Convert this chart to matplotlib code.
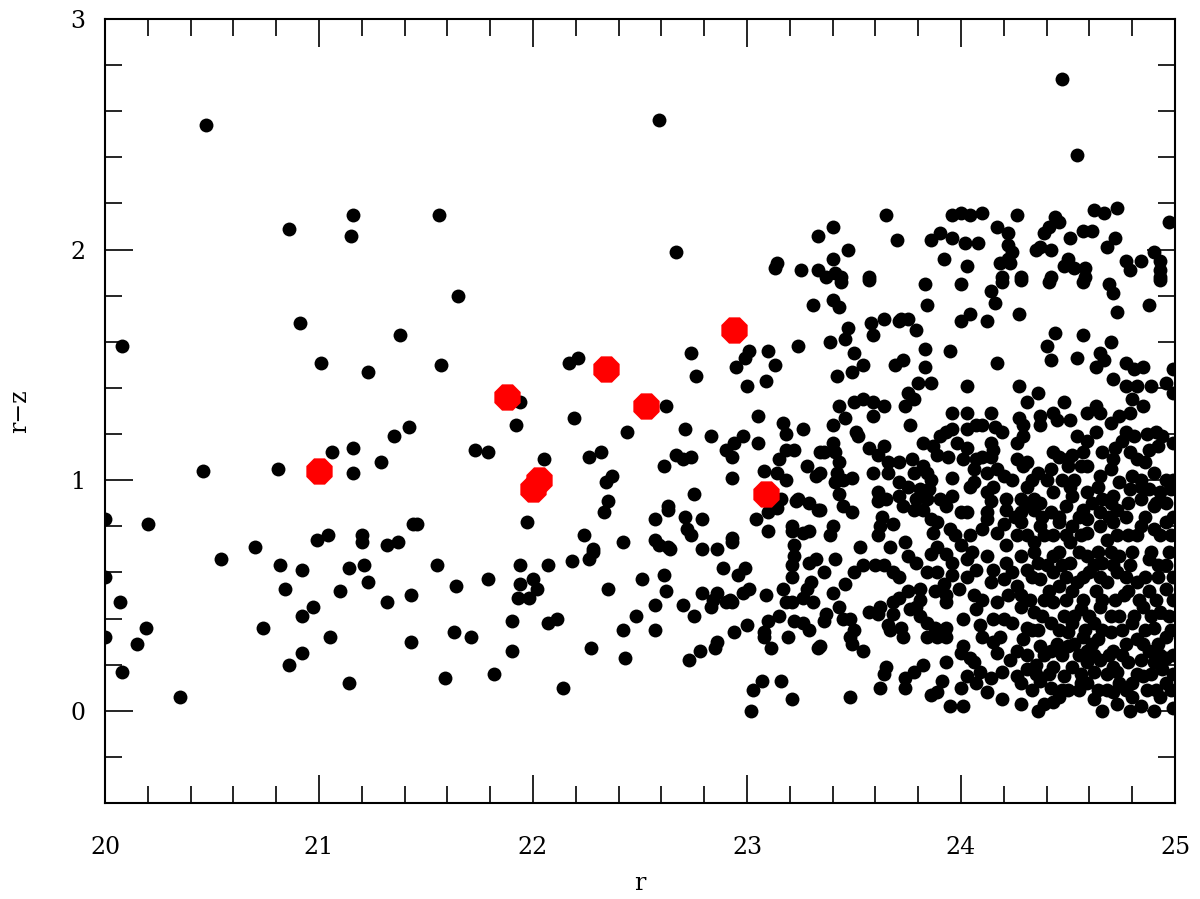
import numpy as np
import matplotlib
matplotlib.use("Agg")
import matplotlib.pyplot as plt
from matplotlib.ticker import MultipleLocator

# highlighted objects (red octagons): r, r-z
r_red = [21.00, 21.88, 22.34, 22.53, 22.94, 22.03, 22.00, 23.09]
rz_red = [1.04, 1.36, 1.48, 1.32, 1.65, 1.00, 0.96, 0.94]

# bright, sparse part of the sample (r, r-z)
bright = [
    (20.47, 2.54), (20.86, 2.09), (21.16, 2.15), (21.15, 2.06), (21.56, 2.15),
    (20.91, 1.68), (20.08, 1.58), (21.38, 1.63), (21.01, 1.51), (21.23, 1.47),
    (21.57, 1.50), (21.65, 1.80), (21.42, 1.23), (21.35, 1.19), (21.06, 1.12),
    (21.16, 1.14), (21.29, 1.08), (21.16, 1.03), (20.81, 1.05), (20.46, 1.04),
    (20.20, 0.81), (20.00, 0.83), (21.44, 0.81), (21.46, 0.81), (20.99, 0.74),
    (21.04, 0.76), (21.20, 0.76), (21.20, 0.73), (21.32, 0.72), (21.37, 0.73),
    (20.70, 0.71), (20.00, 0.58), (20.07, 0.47), (20.19, 0.36), (20.15, 0.29),
    (20.08, 0.17), (20.35, 0.06), (20.54, 0.66), (20.82, 0.63), (20.84, 0.53),
    (20.92, 0.61), (20.92, 0.41), (20.97, 0.45), (20.74, 0.36), (20.86, 0.20),
    (20.92, 0.25), (21.05, 0.32), (21.10, 0.52), (21.14, 0.62), (21.21, 0.63),
    (21.23, 0.56), (21.14, 0.12), (21.32, 0.47), (21.43, 0.50), (21.43, 0.30),
    (21.55, 0.63), (21.59, 0.14), (21.64, 0.54), (21.63, 0.34), (20.00, 0.32),
]

middle = [
    (22.59, 2.56), (22.67, 1.99), (23.14, 1.94), (23.13, 1.92), (23.25, 1.91),
    (23.33, 2.06), (23.33, 1.91), (23.31, 1.76), (22.17, 1.51), (22.21, 1.53),
    (22.74, 1.55), (22.76, 1.45), (23.01, 1.56), (22.99, 1.53), (22.95, 1.49),
    (23.10, 1.56), (23.13, 1.50), (23.00, 1.41), (23.09, 1.43), (23.24, 1.58),
    (21.94, 1.34), (21.92, 1.24), (22.19, 1.27), (22.62, 1.32), (22.44, 1.21),
    (23.05, 1.28), (23.17, 1.25), (23.18, 1.20), (23.26, 1.22), (22.71, 1.22),
    (22.83, 1.19), (22.98, 1.19), (22.94, 1.16), (23.05, 1.16), (22.90, 1.13),
    (22.93, 1.10), (22.67, 1.11), (22.70, 1.09), (22.74, 1.10), (21.73, 1.13),
    (21.79, 1.12), (22.05, 1.09), (22.26, 1.10), (22.32, 1.12), (22.61, 1.06),
    (22.37, 1.02), (22.34, 0.99), (23.15, 1.09), (23.18, 1.13), (23.22, 1.13),
    (22.93, 1.01), (23.08, 1.04), (23.14, 1.03), (23.18, 1.00), (23.28, 1.06),
    (23.32, 1.02), (23.34, 1.12), (22.75, 0.94), (22.35, 0.91), (22.33, 0.86),
    (21.97, 0.82), (22.63, 0.89), (22.63, 0.87), (22.71, 0.84), (22.79, 0.83),
    (22.57, 0.83), (22.72, 0.79), (22.74, 0.76), (23.04, 0.83), (23.10, 0.78),
    (23.10, 0.86), (23.16, 0.92), (23.14, 0.88), (23.24, 0.92), (23.23, 0.91),
    (23.29, 0.90), (23.33, 0.87), (23.21, 0.80), (23.21, 0.78), (23.26, 0.77),
    (23.29, 0.78), (23.22, 0.72), (22.24, 0.76), (22.42, 0.73), (22.28, 0.70),
    (22.57, 0.74), (22.59, 0.72), (22.63, 0.71), (22.79, 0.70), (22.86, 0.70),
    (22.93, 0.75), (22.93, 0.73),
]

lower_mid = [
    (21.71, 0.32), (21.79, 0.57), (21.82, 0.16), (21.94, 0.63), (21.94, 0.55),
    (21.93, 0.49), (21.98, 0.49), (22.00, 0.57), (22.02, 0.53), (22.07, 0.63),
    (21.90, 0.39), (21.90, 0.26), (22.07, 0.38), (22.11, 0.40), (22.14, 0.10),
    (22.18, 0.65), (22.26, 0.66), (22.28, 0.69), (22.35, 0.53), (22.27, 0.27),
    (22.42, 0.35), (22.43, 0.23), (22.48, 0.41), (22.51, 0.57), (22.57, 0.46),
    (22.57, 0.35), (22.61, 0.59), (22.62, 0.52), (22.64, 0.70), (22.70, 0.46),
    (22.75, 0.41), (22.73, 0.22), (22.78, 0.26), (22.79, 0.51), (22.83, 0.45),
    (22.84, 0.48), (22.86, 0.51), (22.86, 0.30), (22.85, 0.27), (22.89, 0.62),
    (22.90, 0.47), (22.92, 0.48), (22.93, 0.47), (22.96, 0.59), (22.99, 0.62),
    (22.98, 0.51), (23.01, 0.53), (22.94, 0.34), (23.00, 0.37), (23.09, 0.50),
    (23.10, 0.39), (23.08, 0.34), (23.08, 0.32), (23.11, 0.27), (23.15, 0.41),
    (23.19, 0.32), (23.17, 0.53), (23.18, 0.47), (23.21, 0.47), (23.21, 0.58),
    (23.21, 0.63), (23.22, 0.67), (23.22, 0.39), (23.26, 0.38), (23.29, 0.35),
    (23.26, 0.49), (23.28, 0.53), (23.30, 0.56), (23.29, 0.64), (23.32, 0.66),
    (23.31, 0.47), (23.33, 0.27), (23.02, 0.00), (23.03, 0.09), (23.07, 0.13),
    (23.16, 0.13), (23.21, 0.05),
]

# faint, crowded part (r > 23.3)
faint_top = [
    (24.47, 2.74), (24.54, 2.41), (23.65, 2.15), (23.70, 2.04), (23.40, 2.10),
    (23.47, 2.00), (23.40, 1.96), (23.37, 1.88), (23.41, 1.90), (23.44, 1.88),
    (23.57, 1.88), (23.86, 2.04), (23.90, 2.07), (23.96, 2.15), (24.00, 2.16),
    (24.04, 2.15), (24.10, 2.16), (23.96, 2.05), (24.02, 2.03), (24.08, 2.03),
    (23.92, 1.96), (24.03, 1.93), (24.17, 2.10), (24.22, 2.07), (24.22, 2.02),
    (24.24, 1.99), (24.22, 1.96), (24.23, 1.94), (24.18, 1.94), (24.19, 1.88),
    (24.28, 1.88), (24.26, 2.15), (24.35, 2.00), (24.37, 2.01), (24.42, 2.00),
    (24.39, 2.07), (24.41, 2.10), (24.44, 2.14), (24.46, 2.12), (24.51, 2.05),
    (24.57, 2.08), (24.61, 2.08), (24.62, 2.17), (24.67, 2.16), (24.73, 2.18),
    (24.72, 2.05), (24.68, 2.01), (24.48, 1.93), (24.50, 1.96), (24.53, 1.92),
    (24.58, 1.92), (24.42, 1.88), (24.58, 1.88), (24.77, 1.95), (24.79, 1.91),
    (24.84, 1.95), (24.90, 1.99), (24.93, 1.95), (24.93, 1.91), (24.97, 2.12),
    (24.93, 1.88),
]

faint_upper = [
    (23.83, 1.85), (24.00, 1.85), (24.14, 1.82), (24.16, 1.77), (24.19, 1.86),
    (24.28, 1.87), (24.41, 1.86), (24.57, 1.86), (24.69, 1.85), (24.71, 1.81),
    (24.73, 1.73), (24.88, 1.76), (24.93, 1.87), (23.40, 1.78), (23.43, 1.75),
    (23.57, 1.87), (23.44, 1.86), (23.84, 1.76), (24.00, 1.69), (24.04, 1.72),
    (24.12, 1.69), (24.27, 1.72), (23.64, 1.70), (23.71, 1.69), (23.72, 1.70),
    (23.75, 1.70), (23.58, 1.68), (23.59, 1.63), (23.47, 1.66), (23.46, 1.61),
    (23.39, 1.60), (23.79, 1.65), (23.83, 1.57), (23.95, 1.56), (23.50, 1.55),
    (23.54, 1.50), (23.49, 1.47), (23.42, 1.45), (23.69, 1.50), (23.73, 1.52),
    (23.83, 1.49), (24.17, 1.51), (24.44, 1.64), (24.40, 1.58), (24.42, 1.52),
    (24.57, 1.63), (24.54, 1.53), (24.65, 1.55), (24.70, 1.60), (24.67, 1.52),
    (24.63, 1.49), (24.77, 1.51), (24.81, 1.48), (24.85, 1.49), (24.71, 1.44),
    (24.77, 1.41), (24.82, 1.41), (24.89, 1.41), (24.96, 1.42), (24.99, 1.38),
    (24.99, 1.48), (23.80, 1.42), (23.86, 1.42), (24.03, 1.41), (24.27, 1.41),
    (24.36, 1.38), (24.31, 1.34), (24.48, 1.34), (23.75, 1.38), (23.78, 1.35),
    (23.74, 1.32), (23.50, 1.34), (23.54, 1.35), (23.59, 1.34), (23.64, 1.32),
    (23.43, 1.32), (23.46, 1.27), (23.40, 1.24), (23.59, 1.28), (23.76, 1.24),
    (23.96, 1.29), (24.03, 1.29), (24.14, 1.29), (24.07, 1.24), (24.10, 1.24),
    (24.03, 1.22), (24.16, 1.23), (24.19, 1.21), (24.27, 1.27), (24.29, 1.24),
    (24.29, 1.19), (24.37, 1.28), (24.37, 1.24), (24.43, 1.29), (24.45, 1.26),
    (24.51, 1.26), (24.59, 1.29), (24.63, 1.32), (24.65, 1.29), (24.70, 1.25),
    (24.74, 1.28), (24.79, 1.29), (24.80, 1.35), (24.85, 1.32), (24.77, 1.21),
    (24.81, 1.19), (24.91, 1.21), (24.94, 1.19), (24.87, 1.20), (24.54, 1.19),
    (24.63, 1.21), (24.59, 1.17), (23.51, 1.21), (23.52, 1.19), (23.40, 1.16),
    (23.36, 1.12), (23.41, 1.12), (23.43, 1.08), (23.57, 1.14), (23.64, 1.15),
    (23.61, 1.11), (23.82, 1.16), (23.87, 1.15), (23.90, 1.19), (23.93, 1.21),
    (23.96, 1.22), (23.98, 1.16), (23.89, 1.11), (23.94, 1.10), (24.01, 1.09),
    (24.03, 1.14), (24.07, 1.09), (24.10, 1.10), (24.14, 1.16), (24.15, 1.13),
    (24.14, 1.10), (24.26, 1.16), (24.26, 1.09), (24.31, 1.08), (24.43, 1.12),
    (24.46, 1.10), (24.50, 1.09), (24.52, 1.11), (24.57, 1.12), (24.66, 1.12),
    (24.71, 1.09), (24.72, 1.14), (24.75, 1.17), (24.79, 1.12), (24.82, 1.09),
    (24.86, 1.08), (24.88, 1.13), (24.92, 1.15), (24.99, 1.16),
]

faint_mid = [
    (23.66, 1.08), (23.71, 1.08), (23.77, 1.09), (23.82, 1.06), (23.59, 1.03),
    (23.66, 1.03), (23.42, 1.03), (23.45, 1.00), (23.49, 1.01), (23.41, 0.99),
    (23.34, 1.03), (23.71, 0.99), (23.78, 1.03), (23.84, 1.03), (23.86, 1.00),
    (23.96, 1.01), (24.06, 1.05), (24.12, 1.03), (24.17, 1.05), (24.20, 1.02),
    (24.24, 1.00), (24.29, 1.06), (24.36, 1.03), (24.42, 1.05), (24.50, 1.06),
    (24.56, 1.06), (24.59, 1.06), (24.65, 1.02), (24.70, 1.05), (24.74, 0.99),
    (24.80, 1.02), (24.90, 1.03), (24.96, 1.00), (23.43, 0.94), (23.45, 0.89),
    (23.49, 0.86), (23.34, 0.87), (23.61, 0.95), (23.61, 0.91), (23.65, 0.92),
    (23.71, 0.93), (23.75, 0.97), (23.81, 0.96), (23.85, 0.96), (23.79, 0.92),
    (23.84, 0.92), (23.73, 0.89), (23.78, 0.87), (23.82, 0.87), (23.90, 0.92),
    (23.96, 0.93), (23.93, 0.89), (24.04, 0.97), (24.06, 0.99), (24.12, 0.95),
    (24.15, 0.97), (24.14, 0.91), (24.21, 0.92), (24.28, 0.92), (24.31, 0.97),
    (24.34, 0.92), (24.40, 1.00), (24.43, 0.95), (24.51, 0.97), (24.52, 0.93),
    (24.59, 0.95), (24.64, 0.97), (24.66, 0.92), (24.71, 0.93), (24.79, 0.96),
    (24.84, 0.97), (24.88, 0.96), (24.93, 0.95), (24.98, 0.96), (24.96, 0.90),
    (24.90, 0.89), (24.84, 0.92), (24.78, 0.90), (24.73, 0.87), (24.65, 0.86),
    (24.57, 0.87), (24.49, 0.89), (24.42, 0.86), (24.34, 0.87), (24.28, 0.86),
    (24.21, 0.87), (24.12, 0.86), (24.00, 0.86), (24.03, 0.86), (23.63, 0.84),
    (23.68, 0.81), (23.62, 0.80), (23.40, 0.80), (23.39, 0.76), (23.61, 0.76),
    (23.67, 0.71), (23.53, 0.71), (23.74, 0.73), (23.86, 0.83), (23.89, 0.82),
    (23.87, 0.77), (23.95, 0.79), (23.97, 0.76), (24.04, 0.76), (24.12, 0.83),
    (24.10, 0.79), (24.17, 0.77), (24.20, 0.81), (24.28, 0.82), (24.31, 0.76),
    (24.37, 0.80), (24.43, 0.76), (24.46, 0.82), (24.52, 0.80), (24.59, 0.83),
    (24.59, 0.77), (24.65, 0.80), (24.71, 0.82), (24.78, 0.76), (24.84, 0.80),
    (24.90, 0.79), (24.96, 0.82), (24.98, 0.76), (24.68, 0.74), (24.51, 0.73),
    (24.34, 0.73), (24.21, 0.72), (24.00, 0.72), (23.89, 0.71),
]

faint_lower = [
    (23.41, 0.66), (23.36, 0.60), (23.50, 0.60), (23.54, 0.63), (23.60, 0.63),
    (23.64, 0.63), (23.68, 0.60), (23.71, 0.58), (23.75, 0.67), (23.79, 0.64),
    (23.86, 0.68), (23.84, 0.60), (23.89, 0.60), (23.93, 0.68), (23.96, 0.64),
    (23.96, 0.59), (24.03, 0.66), (24.05, 0.69), (24.07, 0.61), (24.03, 0.58),
    (23.99, 0.53), (24.12, 0.67), (24.15, 0.61), (24.14, 0.56), (24.20, 0.57),
    (24.21, 0.64), (24.28, 0.67), (24.31, 0.61), (24.26, 0.54), (24.36, 0.64),
    (24.37, 0.57), (24.43, 0.67), (24.43, 0.60), (24.46, 0.54), (24.51, 0.64),
    (24.54, 0.56), (24.59, 0.67), (24.60, 0.60), (24.66, 0.64), (24.68, 0.56),
    (24.74, 0.67), (24.73, 0.60), (24.79, 0.63), (24.82, 0.56), (24.88, 0.66),
    (24.92, 0.58), (24.96, 0.63), (24.96, 0.53), (23.40, 0.51), (23.46, 0.55),
    (23.43, 0.45), (23.37, 0.42), (23.36, 0.39), (23.45, 0.40), (23.48, 0.40),
    (23.50, 0.35), (23.48, 0.32), (23.49, 0.29), (23.54, 0.26), (23.34, 0.28),
    (23.57, 0.43), (23.62, 0.45), (23.61, 0.42), (23.68, 0.47), (23.71, 0.49),
    (23.75, 0.52), (23.68, 0.42), (23.66, 0.37), (23.67, 0.35), (23.72, 0.36),
    (23.73, 0.32), (23.76, 0.44), (23.79, 0.45), (23.81, 0.48), (23.81, 0.53),
    (23.88, 0.52), (23.93, 0.50), (23.93, 0.47), (23.81, 0.41), (23.84, 0.38),
    (23.84, 0.32), (23.88, 0.36), (23.89, 0.32), (23.93, 0.36), (23.93, 0.32),
    (24.01, 0.40), (24.01, 0.28), (24.00, 0.25), (24.04, 0.23), (24.06, 0.21),
    (24.10, 0.32), (24.15, 0.30), (24.17, 0.25), (24.18, 0.32), (24.07, 0.44),
    (24.10, 0.48), (24.15, 0.40), (24.17, 0.47), (24.20, 0.40), (24.24, 0.38),
    (24.28, 0.45), (24.31, 0.36), (24.29, 0.31), (24.26, 0.26), (24.28, 0.50),
    (24.34, 0.43), (24.36, 0.35), (24.37, 0.28), (24.42, 0.38), (24.42, 0.26),
    (24.43, 0.47), (24.48, 0.41), (24.50, 0.34), (24.50, 0.28), (24.52, 0.38),
    (24.57, 0.32), (24.56, 0.44), (24.59, 0.26), (24.62, 0.38), (24.64, 0.31),
    (24.65, 0.45), (24.70, 0.34), (24.71, 0.26), (24.74, 0.41), (24.76, 0.50),
    (24.80, 0.38), (24.82, 0.31), (24.85, 0.45), (24.88, 0.26), (24.90, 0.36),
    (24.93, 0.43), (24.96, 0.32), (24.96, 0.23), (24.90, 0.21), (24.84, 0.22),
    (24.78, 0.21), (24.71, 0.19), (24.65, 0.22), (24.59, 0.21), (24.52, 0.19),
    (24.48, 0.15), (23.65, 0.19), (23.64, 0.16), (23.74, 0.14), (23.78, 0.17),
    (23.82, 0.20), (23.74, 0.10), (23.62, 0.10), (23.48, 0.06), (23.86, 0.07),
    (23.89, 0.08), (23.91, 0.13), (23.93, 0.21), (24.03, 0.15), (24.07, 0.12),
    (24.00, 0.10), (24.09, 0.17), (23.95, 0.02), (24.01, 0.02), (24.14, 0.14),
    (24.19, 0.17), (24.26, 0.15), (24.28, 0.12), (24.31, 0.18), (24.37, 0.13),
    (24.42, 0.10), (24.43, 0.19), (24.46, 0.06), (24.50, 0.09), (24.19, 0.05),
    (24.28, 0.03), (24.36, 0.00), (24.39, 0.03), (24.43, 0.04), (24.56, 0.12),
    (24.62, 0.05), (24.66, 0.00), (24.68, 0.09), (24.73, 0.03), (24.74, 0.12),
    (24.79, 0.00), (24.84, 0.02), (24.87, 0.09), (24.90, 0.00), (24.93, 0.06),
    (24.96, 0.12), (24.99, 0.01), (24.94, 0.18), (24.85, 0.15), (24.80, 0.12),
    (24.73, 0.17), (24.62, 0.17), (24.59, 0.12), (24.80, 0.06), (24.71, 0.08),
]

# the crowded core, where the dots merge (estimated)
faint_core = [
    (24.33, 0.09), (24.47, 0.09), (24.55, 0.09), (24.64, 0.09), (24.77, 0.09),
    (24.91, 0.09), (24.98, 0.09), (24.35, 0.16), (24.41, 0.16), (24.56, 0.16),
    (24.68, 0.16), (24.82, 0.16), (24.89, 0.16), (24.99, 0.16), (24.31, 0.24),
    (24.39, 0.24), (24.47, 0.24), (24.55, 0.24), (24.62, 0.24), (24.69, 0.24),
    (24.75, 0.24), (24.93, 0.24), (24.99, 0.24), (24.45, 0.29), (24.53, 0.29),
    (24.61, 0.29), (24.77, 0.29), (24.85, 0.29), (24.92, 0.29), (24.33, 0.35),
    (24.46, 0.35), (24.58, 0.35), (24.66, 0.35), (24.75, 0.35), (24.86, 0.35),
    (24.98, 0.35), (24.38, 0.41), (24.53, 0.41), (24.60, 0.41), (24.70, 0.41),
    (24.81, 0.41), (24.89, 0.41), (24.97, 0.41), (24.32, 0.48), (24.39, 0.48),
    (24.49, 0.48), (24.57, 0.48), (24.66, 0.48), (24.72, 0.48), (24.83, 0.48),
    (24.91, 0.48), (24.99, 0.48), (24.41, 0.52), (24.52, 0.52), (24.63, 0.52),
    (24.78, 0.52), (24.88, 0.52), (24.33, 0.58), (24.49, 0.58), (24.57, 0.58),
    (24.65, 0.58), (24.77, 0.58), (24.86, 0.58), (24.99, 0.58), (24.40, 0.63),
    (24.47, 0.63), (24.62, 0.63), (24.71, 0.63), (24.92, 0.63), (24.34, 0.69),
    (24.46, 0.69), (24.55, 0.69), (24.64, 0.69), (24.70, 0.69), (24.80, 0.69),
    (24.89, 0.69), (24.97, 0.69), (24.26, 0.76), (24.39, 0.76), (24.49, 0.76),
    (24.56, 0.76), (24.73, 0.76), (24.82, 0.76), (24.93, 0.76), (24.25, 0.84),
    (24.38, 0.84), (24.46, 0.84), (24.55, 0.84), (24.69, 0.84), (24.77, 0.84),
    (24.86, 0.84), (24.99, 0.84), (24.31, 0.90), (24.37, 0.90), (24.61, 0.90),
    (24.70, 0.90), (24.91, 0.90), (24.33, 1.00), (24.47, 1.00), (24.53, 1.00),
    (24.84, 1.00), (24.99, 1.00), (23.92, 0.55), (24.06, 0.50), (24.22, 0.50),
    (24.24, 0.60), (24.09, 0.37), (24.23, 0.22), (24.12, 0.08), (24.35, 0.20),
]

groups = [bright, middle, lower_mid, faint_top, faint_upper, faint_mid,
          faint_lower, faint_core]
r_black = np.concatenate([np.array(g)[:, 0] for g in groups])
rz_black = np.concatenate([np.array(g)[:, 1] for g in groups])

plt.rcParams['font.family'] = ['DejaVu Serif']
fig = plt.figure(figsize=(12, 8.99), dpi=100)
ax = fig.add_axes([0.0875, 0.1068, 0.8917, 0.8721])

ax.scatter(r_black, rz_black, s=100, c='black', linewidths=0, zorder=2)
ax.scatter(r_red, rz_red, s=420, c='red', marker='8', linewidths=0, zorder=3)

ax.set_xlim(20, 25)
ax.set_ylim(-0.4, 3)
ax.xaxis.set_major_locator(MultipleLocator(1))
ax.xaxis.set_minor_locator(MultipleLocator(0.2))
ax.yaxis.set_major_locator(MultipleLocator(1))
ax.yaxis.set_minor_locator(MultipleLocator(0.2))
ax.tick_params(which='both', direction='in', top=True, right=True, width=1.2, color='black')
ax.tick_params(which='major', length=20, labelsize=17)
ax.tick_params(which='minor', length=12)
ax.tick_params(axis='x', which='major', pad=24)
ax.tick_params(axis='y', which='major', pad=14)
for sp in ax.spines.values():
    sp.set_linewidth(1.5)

ax.set_xlabel('r', fontsize=17, labelpad=9)
ax.set_ylabel('r\u2212z', fontsize=17, labelpad=28)

fig.savefig('out.png', dpi=100)
